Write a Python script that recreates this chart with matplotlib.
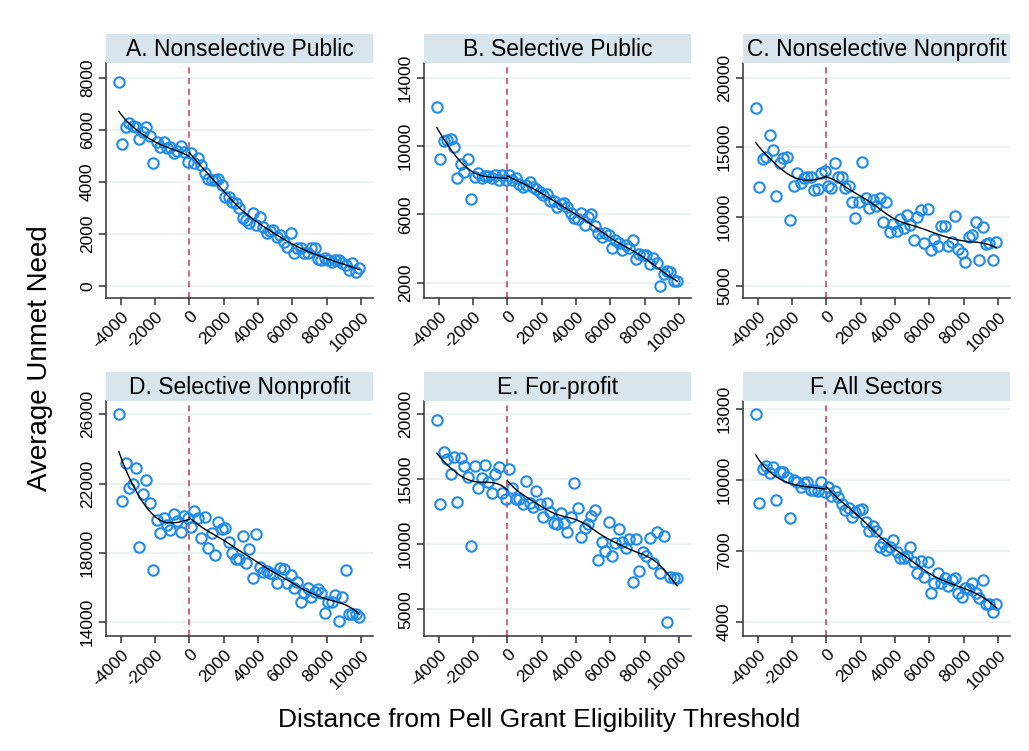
import numpy as np
import matplotlib.pyplot as plt

plt.rcParams['font.family'] = ['Liberation Sans', 'DejaVu Sans']

# bin centres, distance from the Pell threshold (200 dollar bins)
dist = np.arange(-4100, 10000, 200)

nonsel_public = [7850, 5440, 6120, 6270, 6150, 6120, 5630, 5900, 6090, 5760,
                 4710, 5540, 5350, 5540, 5290, 5350, 5120, 5200, 5380, 5160,
                 4770, 5120, 4740, 4900, 4650, 4350, 4100, 4070, 4070, 4100,
                 3880, 3430, 3430, 3240, 3170, 2980, 2600, 2530, 2430, 2820,
                 2340, 2660, 2280, 2020, 2120, 2150, 1890, 1960, 1700, 1510,
                 2020, 1280, 1450, 1450, 1250, 1250, 1450, 1450, 1020, 1000,
                 1060, 1000, 930, 1000, 1000, 870, 810, 610, 900, 550, 680]

sel_public = [12260, 9220, 10290, 10350, 10390, 9920, 8100, 8950, 8500, 9220,
              6900, 8200, 8420, 8100, 8230, 8230, 8150, 8300, 8000, 8300,
              8000, 8300, 8000, 8100, 7800, 7600, 7700, 7900, 7600, 7500,
              7300, 7150, 7200, 6800, 6800, 6400, 6600, 6650, 6400, 6100,
              5800, 5750, 6100, 5400, 5850, 6000, 5300, 4900, 4700, 4900,
              4800, 4000, 4500, 4300, 3900, 4200, 4050, 4500, 3400, 3700,
              3600, 3600, 3100, 3450, 3150, 1800, 2500, 2700, 2600, 2100, 2100]

nonsel_nonprofit = [17790, 12150, 14120, 14260, 15870, 14800, 11510, 13840, 14200, 14320,
                    9730, 12220, 13120, 12400, 12760, 12880, 12880, 11920, 11970, 13170,
                    13310, 12220, 12050, 13850, 12820, 12820, 12050, 12220, 11080, 9900,
                    11080, 13960, 11320, 10600, 11200, 10730, 11320, 9640, 11080, 8920,
                    9470, 8990, 9810, 9160, 10120, 9400, 8320, 10000, 10490, 8090,
                    10560, 7570, 8400, 7900, 9300, 9300, 7900, 8140, 10060, 7660,
                    7350, 6760, 8500, 8690, 9580, 6860, 9230, 8020, 8110, 6860, 8180]

sel_nonprofit = [26000, 21000, 23210, 21730, 21960, 22880, 18370, 21380, 22210, 20870,
                 17020, 19900, 19170, 20040, 19620, 19330, 20230, 19850, 19230, 20150,
                 20000, 19520, 20420, 20040, 18850, 20100, 18310, 19130, 17880, 19810,
                 19380, 19420, 18620, 17980, 17630, 17630, 18980, 17400, 18210, 16580,
                 19080, 17210, 16920, 16960, 16830, 16770, 16250, 17120, 17060, 16290,
                 16730, 16000, 16350, 15190, 15670, 15960, 15440, 15770, 15900, 15670,
                 14520, 15150, 15150, 15580, 14080, 15480, 17020, 14460, 14460, 14460, 14330]

for_profit = [19540, 13060, 17060, 16550, 15370, 16730, 13220, 16650, 16030, 15190,
              9860, 16030, 14340, 15110, 16080, 14800, 13910, 15370, 15960, 13910,
              13470, 15780, 14290, 13470, 13470, 13060, 14860, 13140, 12880, 14110,
              13060, 12070, 13190, 12500, 11600, 11530, 12370, 11600, 10960, 12120,
              14680, 12760, 10580, 11220, 11530, 12170, 12630, 8790, 10200, 9480,
              11740, 9100, 10070, 11170, 10200, 9740, 10380, 7120, 10380, 7970,
              9430, 9100, 10450, 8530, 10910, 7760, 10660, 4000, 7510, 7380, 7380]

all_sectors = [12775, 9010, 10460, 10600, 10280, 10560, 9150, 10350, 10350, 10140,
               8380, 10000, 9920, 9710, 9850, 9900, 9570, 9570, 9530, 9920,
               9500, 9710, 9320, 9530, 9290, 8970, 8730, 8800, 8450, 8660,
               8730, 8770, 8210, 7860, 8070, 7860, 7190, 7330, 7050, 7160,
               7470, 6980, 6700, 6700, 6810, 7190, 6560, 6060, 6580, 5920,
               6530, 5250, 5640, 6060, 5640, 5880, 5540, 5780, 5880, 5250,
               5080, 5460, 5400, 5640, 5220, 5010, 5780, 4760, 4760, 4450, 4760]

titles = ['A. Nonselective Public', 'B. Selective Public', 'C. Nonselective Nonprofit',
          'D. Selective Nonprofit', 'E. For-profit', 'F. All Sectors']
series = [nonsel_public, sel_public, nonsel_nonprofit, sel_nonprofit, for_profit, all_sectors]
yticks = [[0, 2000, 4000, 6000, 8000],
          [2000, 6000, 10000, 14000],
          [5000, 10000, 15000, 20000],
          [14000, 18000, 22000, 26000],
          [5000, 10000, 15000, 20000],
          [4000, 7000, 10000, 13000]]
ylims = [(-460, 8565), (1100, 14860), (4140, 21060),
         (13210, 26770), (2950, 21000), (3420, 13325)]
xticks = [-4000, -2000, 0, 2000, 4000, 6000, 8000, 10000]


def local_linear(x, y, grid, bw=850):
    # gaussian-kernel local linear smoother
    out = []
    for g in grid:
        w = np.exp(-0.5 * ((x - g) / bw) ** 2)
        X = np.column_stack([np.ones_like(x), x - g])
        W = X * w[:, None]
        beta = np.linalg.solve(X.T @ W, W.T @ y)
        out.append(beta[0])
    return np.array(out)


W, H = 1029, 751
fig = plt.figure(figsize=(W / 100, H / 100), dpi=100)

lefts = [106, 424, 743]
tops = [63, 401]
pw, ph, sh = 267, 235, 29

for i, (title, vals) in enumerate(zip(titles, series)):
    r, c = divmod(i, 3)
    l, t = lefts[c], tops[r]
    ax = fig.add_axes([l / W, 1 - (t + ph) / H, pw / W, ph / H])
    strip = fig.add_axes([l / W, 1 - t / H, pw / W, sh / H])
    strip.set_facecolor('#d9e5ec')
    strip.set_xticks([])
    strip.set_yticks([])
    for s in strip.spines.values():
        s.set_visible(False)
    strip.text(0.5, 0.45, title, ha='center', va='center', fontsize=16.5, transform=strip.transAxes)

    y = np.array(vals, dtype=float)
    ax.plot(dist, y, 'o', mfc='none', mec='#1f8ceb', mew=1.5, ms=7.5, zorder=3)

    # separate smooth on each side of the threshold
    left = dist < 0
    grid_l = np.linspace(dist[left].min(), 0, 80)
    ax.plot(grid_l, local_linear(dist[left], y[left], grid_l), color='black', lw=1, zorder=4)
    right = dist > 0
    grid_r = np.linspace(0, dist[right].max(), 120)
    ax.plot(grid_r, local_linear(dist[right], y[right], grid_r), color='black', lw=1, zorder=4)

    ax.axvline(0, color='#c8375a', lw=1.1, ls=(0, (4, 3)), zorder=2)

    ax.set_xlim(-4850, 10700)
    ax.set_ylim(*ylims[i])
    ax.set_yticks(yticks[i])
    ax.set_yticklabels([str(v) for v in yticks[i]], rotation=90, va='center', fontsize=12.5)
    ax.set_xticks(xticks)
    ax.set_xticklabels([str(v) for v in xticks], rotation=45, ha='right',
                       rotation_mode='anchor', fontsize=12.5)
    ax.grid(axis='y', color='#e8f0f2', lw=1.2)
    ax.set_axisbelow(True)
    for s in ('top', 'right'):
        ax.spines[s].set_visible(False)
    for s in ('left', 'bottom'):
        ax.spines[s].set_color('#333333')
        ax.spines[s].set_linewidth(1.1)
    ax.tick_params(colors='#333333', length=5, width=1.1, labelcolor='black', pad=3)

fig.text(40 / W, 1 - 358 / H, 'Average Unmet Need', rotation=90, ha='center', va='center', fontsize=20)
fig.text(539 / W, 1 - 720 / H, 'Distance from Pell Grant Eligibility Threshold',
         ha='center', va='center', fontsize=19)

fig.savefig('out.png', dpi=100)
